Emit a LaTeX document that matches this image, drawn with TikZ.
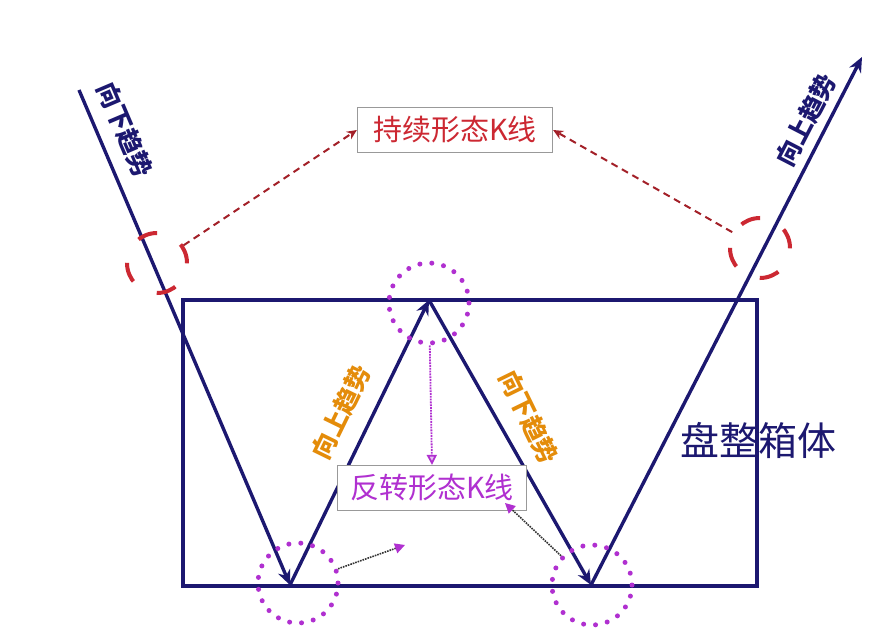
\documentclass[tikz,border=0pt]{standalone}
\usepackage{fontspec}
\newfontfamily\cjk{Noto Sans CJK SC}
\usetikzlibrary{arrows.meta}
\definecolor{navy}{RGB}{28,24,112}
\definecolor{trendred}{RGB}{204,40,50}
\definecolor{ringviolet}{RGB}{176,48,208}
\definecolor{trendorange}{RGB}{228,140,10}
\begin{document}
\begin{tikzpicture}[x=1pt,y=-1pt,
  trend/.style={draw=navy,line width=3.4pt,-{Stealth[length=15pt,width=13pt]}},
  redring/.style={circle,draw=trendred,line width=4pt,dash pattern=on 20pt off 27pt,minimum size=60pt,inner sep=0pt},
  dotring/.style={circle,draw=ringviolet,line width=5pt,line cap=round,dash pattern=on 0pt off 12pt,minimum size=80pt,inner sep=0pt},
  kbox/.style={draw=gray!80,fill=white,line width=1.2pt,font=\cjk\fontsize{29}{31}\selectfont},
  trendlabel/.style={font=\cjk\bfseries\fontsize{25}{27}\selectfont}]
\useasboundingbox (0,0) rectangle (892,644);
\fill[white] (0,0) rectangle (892,644);
\draw[navy,line width=3.6pt] (183,300) rectangle (757,586);
\node[font=\cjk\fontsize{39}{42}\selectfont,text=navy] (boxname) at (758,440) {盘整箱体};
\coordinate (dstart) at (79,90);
\coordinate (vleft) at (290,585);
\coordinate (peak) at (429,300);
\coordinate (vright) at (591,585);
\coordinate (uend) at (862,57);
\draw[trend] (dstart) -- (vleft);
\draw[trend] (vleft) -- (peak);
\draw[trend] (peak) -- (vright);
\draw[trend] (vright) -- (uend);
\node[trendlabel,text=navy,rotate=-67] (ldown) at (125,130) {向下趋势};
\node[trendlabel,text=navy,rotate=62.7] (rup) at (806,120) {向上趋势};
\node[trendlabel,text=trendorange,rotate=64] (iup) at (341,412) {向上趋势};
\node[trendlabel,text=trendorange,rotate=-64] (idown) at (529,417) {向下趋势};
\node[kbox,text=trendred,minimum width=195pt,minimum height=45pt] (keep) at (455,130) {持续形态K线};
\node[kbox,text=ringviolet,minimum width=189pt,minimum height=45pt] (turn) at (432,488) {反转形态K线};
\node[redring] (lring) at (157,263) {};
\node[redring] (rring) at (760,248) {};
\node[dotring] (topring) at (429,303) {};
\node[dotring] (blring) at (298,583) {};
\node[dotring] (brring) at (592,585) {};
\coordinate (blend) at (405,545);
\coordinate (turnend) at (505,503);
\draw[trendred!80!black,line width=2pt,dash pattern=on 7pt off 5pt,-{Stealth[length=10pt,width=9pt]}] (lring) -- (keep.west);
\draw[trendred!80!black,line width=2pt,dash pattern=on 7pt off 5pt,-{Stealth[length=10pt,width=9pt]}] (rring) -- (keep.east);
\draw[ringviolet,line width=1.8pt,densely dotted,-{Triangle[open,length=10pt,width=10pt,fill=ringviolet!30]}] (topring) -- (turn.north);
\draw[gray!40!black,line width=1.6pt,densely dotted,-{Triangle[length=10pt,width=10pt,fill=ringviolet,color=ringviolet]}] (blring) -- (blend);
\draw[gray!40!black,line width=1.6pt,densely dotted,-{Triangle[length=10pt,width=10pt,fill=ringviolet,color=ringviolet]}] (brring) -- (turnend);
\end{tikzpicture}
\end{document}
